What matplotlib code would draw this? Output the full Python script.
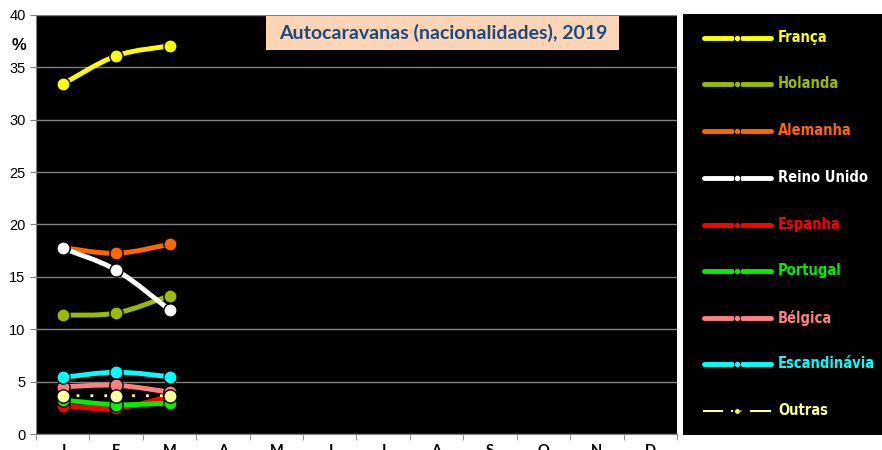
import matplotlib
matplotlib.use("Agg")
import matplotlib.pyplot as plt
from matplotlib.path import Path
from matplotlib.patches import PathPatch, Rectangle
from matplotlib import font_manager
import numpy as np

months = ["J", "F", "M", "A", "M", "J", "J", "A", "S", "O", "N", "D"]
series_names = ["França", "Holanda", "Alemanha", "Reino Unido", "Espanha",
                "Portugal", "Bélgica", "Escandinávia", "Outras"]
franca = [33.4, 36.1, 37.05]
holanda = [11.35, 11.55, 13.2]
alemanha = [17.8, 17.25, 18.1]
reino_unido = [17.73, 15.65, 11.85]
espanha = [2.7, 2.45, 3.6]
portugal = [3.25, 2.8, 2.95]
belgica = [4.5, 4.65, 4.0]
escandinavia = [5.4, 5.9, 5.47]
outras = [3.66, 3.65, 3.66]
values = [franca, holanda, alemanha, reino_unido, espanha, portugal, belgica, escandinavia, outras]
colors = ["#FFFF00", "#99BB00", "#FF6600", "#FFFFFF", "#FF0000",
          "#00EE00", "#FF8080", "#00FFFF", "#FFFF99"]
yticks = [0, 5, 10, 15, 20, 25, 30, 35, 40]
title = "Autocaravanas (nacionalidades), 2019"

# pick a narrow font if available
names = {f.name for f in font_manager.fontManager.ttflist}
cond = [f for f in font_manager.fontManager.ttflist
        if f.name == "DejaVu Sans" and f.stretch in ("condensed", "semi-condensed") and f.weight in ("bold", 700)]
if "Liberation Sans Narrow" in names:
    NARROW = dict(family=["Liberation Sans Narrow", "DejaVu Sans"])
elif cond:
    NARROW = dict(family=["DejaVu Sans"], stretch="condensed")
else:
    NARROW = dict(family=["Liberation Sans", "DejaVu Sans"])

W, H = 882, 450
fig = plt.figure(figsize=(8.82, 4.5), dpi=100)
fig.patch.set_facecolor("white")

def fx(px):
    return px / W

def fy(py):
    return 1 - py / H

ax = fig.add_axes([fx(36), fy(434), fx(677) - fx(36), fy(15) - fy(434)])
ax.set_facecolor("black")
ax.set_xlim(-0.5, 11.5)
ax.set_ylim(0, 40)
ax.set_yticks(yticks)
ax.yaxis.grid(True, color="#808080", lw=1)
ax.set_axisbelow(True)
for s in ax.spines.values():
    s.set_color("#808080")
ax.spines["right"].set_visible(False)
ax.spines["top"].set_visible(False)

ax.tick_params(axis="y", colors="#808080", length=4, labelcolor="black", labelsize=10.5)
for lab in ax.get_yticklabels():
    lab.set_family(["Liberation Sans", "DejaVu Sans"])

x_idx = np.arange(len(months))
ax.set_xticks(x_idx)
ax.set_xticklabels(months, fontsize=10.5, fontweight="bold", family=["Lato", "DejaVu Sans"])
ax.tick_params(axis="x", length=0, pad=7)
ax.set_xticks(np.arange(-0.5, 12, 1), minor=True)
ax.tick_params(axis="x", which="minor", length=4, color="#808080")

def smooth_path(xs, ys):
    pts = list(zip(xs, ys))
    n = len(pts)
    verts = [pts[0]]
    codes = [Path.MOVETO]
    for i in range(n - 1):
        p0 = pts[i - 1] if i > 0 else pts[i]
        p1 = pts[i]
        p2 = pts[i + 1]
        p3 = pts[i + 2] if i + 2 < n else pts[i + 1]
        c1 = (p1[0] + (p2[0] - p0[0]) / 6, p1[1] + (p2[1] - p0[1]) / 6)
        c2 = (p2[0] - (p3[0] - p1[0]) / 6, p2[1] - (p3[1] - p1[1]) / 6)
        verts += [c1, c2, p2]
        codes += [Path.CURVE4] * 3
    return Path(verts, codes)

for i, (name, vals, col) in enumerate(zip(series_names, values, colors)):
    xs = x_idx[:len(vals)]
    if name == "Outras":
        patch = PathPatch(smooth_path(xs, vals), fill=False, edgecolor=col, lw=2,
                          linestyle=(0, (1, 4)), zorder=3 + i * 0.1)
    else:
        patch = PathPatch(smooth_path(xs, vals), fill=False, edgecolor=col, lw=3.5,
                          capstyle="round", zorder=3 + i * 0.1)
    ax.add_patch(patch)

for i, (name, vals, col) in enumerate(zip(series_names, values, colors)):
    xs = x_idx[:len(vals)]
    ax.plot(xs, vals, linestyle="none", marker="o", ms=9.5, mfc=col, mec="black",
            mew=1, zorder=5 + i * 0.1)

fig.text(fx(19), fy(45), "%", fontsize=12, fontweight="bold", ha="center", va="center",
         family=["Liberation Sans", "DejaVu Sans"])

# title box
fig.patches.append(Rectangle((fx(266), fy(50)), fx(619) - fx(266), fy(16) - fy(50),
                             transform=fig.transFigure, facecolor="#FBD5B5",
                             edgecolor="none", zorder=10))
fig.text(fx(443), fy(33), title, fontsize=14, fontweight="bold", color="#1F497D",
         ha="center", va="center", family=["Lato", "DejaVu Sans"], zorder=11)

# legend panel
lax = fig.add_axes([fx(683), fy(435), fx(882) - fx(683), fy(14) - fy(435)])
lax.set_facecolor("black")
lax.set_xlim(683, 882)
lax.set_ylim(435, 14)
lax.set_xticks([])
lax.set_yticks([])
for s in lax.spines.values():
    s.set_visible(False)
leg_y = [38, 84, 131, 178, 225, 271, 318, 364, 411]
for name, col, yy in zip(series_names, colors, leg_y):
    if name == "Outras":
        lax.plot([704, 722], [yy, yy], color=col, lw=1.5)
        lax.plot([751, 770], [yy, yy], color=col, lw=1.5)
        lax.plot([731, 743], [yy, yy], color=col, lw=1.5, linestyle=(0, (1, 3)))
        lax.plot([737], [yy], marker="o", ms=4, color=col, mec="black", mew=0.5)
    else:
        lax.plot([704, 732], [yy, yy], color=col, lw=3.5, solid_capstyle="round")
        lax.plot([742, 771], [yy, yy], color=col, lw=3.5, solid_capstyle="round")
        lax.plot([737], [yy], marker="o", ms=4.5, color=col, mec="black", mew=0.5)
    lax.text(778, yy, name, color=col, fontsize=10.5, fontweight="bold", va="center",
             ha="left", **NARROW)

fig.savefig("out.png", dpi=100, facecolor="white")
